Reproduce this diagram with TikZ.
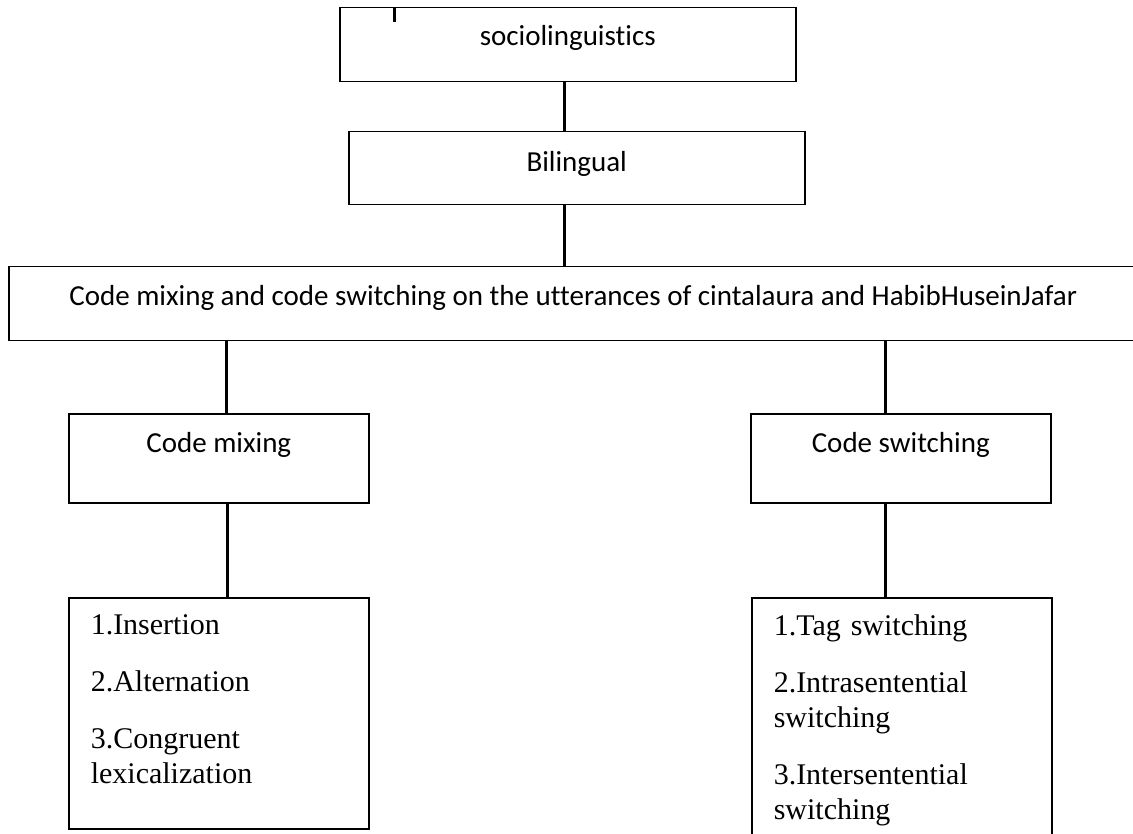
\documentclass[tikz,border=0pt]{standalone}
\usepackage{fontspec}
\setmainfont{Liberation Serif}
\newfontfamily\calibri[Ligatures=NoCommon]{Carlito}

\begin{document}
\begin{tikzpicture}[x=1pt,y=-1pt,
		topbox/.style={draw,line width=1.5pt,inner sep=0pt,anchor=north west,
			font=\calibri\fontsize{29}{35}\selectfont},
		listbox/.style={draw,line width=1.5pt,inner xsep=22pt,inner ysep=0pt,anchor=north west,
			text width=256pt,align=left,font=\fontsize{30}{35}\selectfont},
		conn/.style={line width=3pt}
		]
		\useasboundingbox (0,0) rectangle (1133,834);
		% top of the tree
		\node[topbox,minimum width=456pt,text height=38pt,text depth=36pt] (socio) at (339,7) {sociolinguistics};
		\node[topbox,minimum width=456pt,text height=40pt,text depth=33pt] (bil) at (348,131) {Bilingual};
		\node[topbox,minimum width=1129pt,text height=39pt,text depth=35pt] (utter) at (8,266)
			{Code mixing and code switching on the utterances of cintalaura and HabibHuseinJafar};
		% the two branches
		\node[topbox,minimum width=300pt,text height=39pt,text depth=50pt] (mix) at (68,413) {Code mixing};
		\node[topbox,minimum width=300pt,text height=39pt,text depth=50pt] (switch) at (750,413) {Code switching};
		\node[listbox,text height=37pt,text depth=194pt] (mixlist) at (68,597)
			{1.Insertion\\[22pt]
			2.Alternation\\[22pt]
			3.Congruent\\lexicalization};
		\node[listbox,text height=38pt,text depth=215pt] (switchlist) at (751,597)
			{1.Tag switching\\[22pt]
			2.Intrasentential\\switching\\[22pt]
			3.Intersentential\\switching};
		% connectors
		\draw[conn] ([xshift=-173pt]socio.north) -- ++(0,15);
		\draw[conn] ([xshift=-3pt]socio.south) -- ([xshift=-3pt]socio.south |- bil.north);
		\draw[conn] ([xshift=-12pt]bil.south) -- ([xshift=-12pt]bil.south |- utter.north);
		\draw[conn] ([xshift=8pt]mix.north) -- ([xshift=8pt]mix.north |- utter.south);
		\draw[conn] ([xshift=-15pt]switch.north) -- ([xshift=-15pt]switch.north |- utter.south);
		\draw[conn] ([xshift=8.5pt]mix.south) -- ([xshift=8.5pt]mix.south |- mixlist.north);
		\draw[conn] ([xshift=-15pt]switch.south) -- ([xshift=-15pt]switch.south |- switchlist.north);
\end{tikzpicture}
\end{document}
